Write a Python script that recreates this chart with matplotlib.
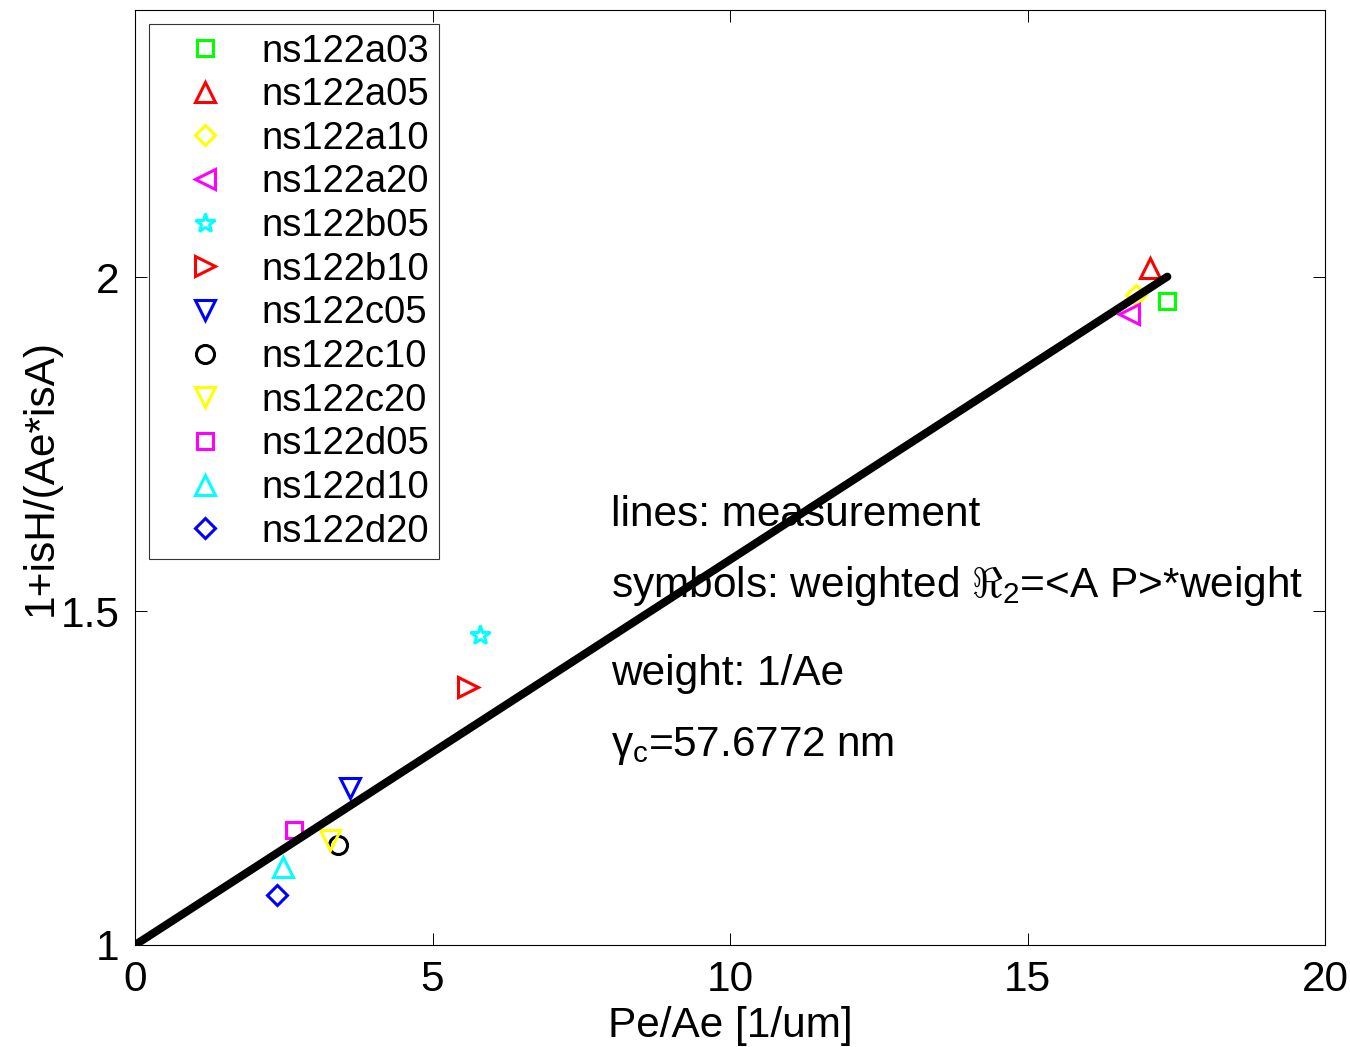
import numpy as np
import matplotlib
matplotlib.use("Agg")
import matplotlib.pyplot as plt

plt.rcParams['font.family'] = ['Liberation Sans', 'DejaVu Sans']
plt.rcParams['mathtext.fontset'] = 'custom'
plt.rcParams['mathtext.rm'] = 'Liberation Sans'
plt.rcParams['mathtext.it'] = 'Liberation Sans'
plt.rcParams['mathtext.bf'] = 'Liberation Sans:bold'

# Samples and their weighted R2 points (x: Pe/Ae [1/um], y: 1+isH/(Ae*isA))
samples = ['ns122a03', 'ns122a05', 'ns122a10', 'ns122a20', 'ns122b05', 'ns122b10',
           'ns122c05', 'ns122c10', 'ns122c20', 'ns122d05', 'ns122d10', 'ns122d20']
x_vals = [17.35, 17.06, 16.83, 16.71, 5.79, 5.60, 3.61, 3.42, 3.28, 2.67, 2.48, 2.38]
y_vals = [1.964, 2.014, 1.974, 1.945, 1.464, 1.387, 1.235, 1.149, 1.157, 1.172, 1.117, 1.075]
markers = ['s', '^', 'D', '<', '*', '>', 'v', 'o', 'v', 's', '^', 'D']
colors = ['#00ff00', '#ff0000', '#ffff00', '#ff00ff', '#00ffff', '#ff0000',
          '#0000ff', '#000000', '#ffff00', '#ff00ff', '#00ffff', '#0000ff']
marker_sizes = {'s': 11, '^': 14, 'v': 14, '<': 14, '>': 14, 'D': 10, 'o': 13, '*': 15}

# Fitted line: 1 + gamma_c * Pe/Ae
gamma_c_nm = 57.6772
x_fit_range = [0.0, 17.35]

x_ticks = [0, 5, 10, 15, 20]
y_ticks = [1, 1.5, 2]

fig = plt.figure(figsize=(13.5, 10.47), dpi=100)
ax = fig.add_axes([0.1, 1 - 945 / 1047, 0.8815, (945 - 10) / 1047])

for name, xv, yv, m, c in zip(samples, x_vals, y_vals, markers, colors):
    ax.plot([xv], [yv], linestyle='none', marker=m, markersize=marker_sizes[m],
            markerfacecolor='none', markeredgecolor=c, markeredgewidth=2.2,
            label=name, zorder=3)

xf = np.array(x_fit_range)
ax.plot(xf, 1 + gamma_c_nm * 1e-3 * xf, color='black', linewidth=5.8,
        solid_capstyle='round', zorder=4)

ax.set_xlim(0, 20)
ax.set_ylim(1, 2.4)
ax.set_xticks(x_ticks)
ax.set_yticks(y_ticks)
ax.set_xticklabels([str(t) for t in x_ticks])
ax.set_yticklabels(['1', '1.5', '2'])
ax.tick_params(direction='in', length=8.5, width=0.7, labelsize=30.5,
               top=True, right=True, pad=11)
for sp in ax.spines.values():
    sp.set_linewidth(0.8)

ax.set_xlabel('Pe/Ae [1/um]', fontsize=30.5, labelpad=4)
ax.set_ylabel('1+isH/(Ae*isA)', fontsize=30.5, labelpad=0)

fs = 30.5
ax.text(8.0, 1.628, 'lines: measurement', fontsize=fs, va='baseline', zorder=2)
ax.text(8.0, 1.521, r'symbols: weighted $\Re_{\mathrm{2}}$=<A P>*weight', fontsize=fs,
        va='baseline', zorder=2)
ax.text(8.0, 1.390, 'weight: 1/Ae', fontsize=fs, va='baseline', zorder=2)
ax.text(8.0, 1.2825, r'$\gamma_{\mathrm{c}}$=57.6772 nm', fontsize=fs, va='baseline', zorder=2)

leg = ax.legend(loc='upper left', bbox_to_anchor=(14 / 1190, 1 - 14 / 935),
                fontsize=27.5, frameon=True, fancybox=False, edgecolor='black',
                borderpad=0.25, labelspacing=0.2, handletextpad=0.25,
                handlelength=2.45, borderaxespad=0, markerscale=1.0)
leg.get_frame().set_linewidth(0.8)

fig.savefig('out.png', dpi=100)
